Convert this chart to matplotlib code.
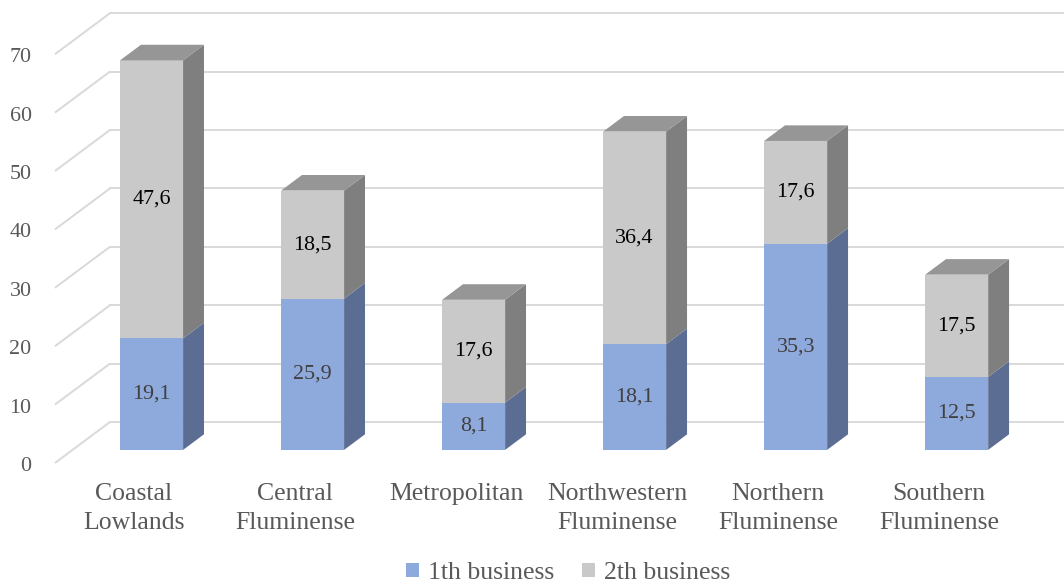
import matplotlib
matplotlib.use("Agg")
import matplotlib.pyplot as plt
from matplotlib.patches import Polygon, Patch

categories = ["Coastal\nLowlands", "Central\nFluminense", "Metropolitan",
              "Northwestern\nFluminense", "Northern\nFluminense", "Southern\nFluminense"]
first_business = [19.1, 25.9, 8.1, 18.1, 35.3, 12.5]
second_business = [47.6, 18.5, 17.6, 36.4, 17.6, 17.5]
series_names = ["1th business", "2th business"]
y_ticks = [0, 10, 20, 30, 40, 50, 60, 70]

FONT = "Liberation Serif"
BLUE_FRONT, BLUE_SIDE, BLUE_TOP = "#8EA9DB", "#5B6D92", "#7389B5"
GREY_FRONT, GREY_SIDE, GREY_TOP = "#C9C9C9", "#7F7F7F", "#969696"
GRID = "#D9D9D9"

fig = plt.figure(figsize=(10.64, 5.86), dpi=100)
ax = fig.add_axes([0, 0, 1, 1])
ax.set_xlim(-0.832, 5.776)
ax.set_ylim(-21.06, 79.28)
ax.axis("off")

# 3D projection: depth d in [0,1]
DX, DY = 0.3416, 7.02
def P(x, v, d):
    return (x + DX * d, v + DY * d)

wall_x = -0.4907
x_right = 6.5
# gridlines: left wall diagonals + back wall
for t in y_ticks:
    a = P(wall_x, t, 0); b = P(wall_x, t, 1)
    ax.plot([a[0], b[0]], [a[1], b[1]], color=GRID, lw=1.4, solid_capstyle="butt", zorder=1)
    ax.plot([b[0], x_right], [b[1], b[1]], color=GRID, lw=1.4, zorder=1)
    ax.text(wall_x - 0.145, t - 0.6, str(t), ha="right", va="center",
            fontsize=15.8, family=FONT, color="#595959")

# bars
f0, f1 = 0.32, 0.70
hw = 0.1957
def box(xc, v0, v1, front, side, top, draw_top):
    xl, xr = xc - hw, xc + hw
    fr = [P(xl, v0, f0), P(xr, v0, f0), P(xr, v1, f0), P(xl, v1, f0)]
    sd = [P(xr, v0, f0), P(xr, v0, f1), P(xr, v1, f1), P(xr, v1, f0)]
    ax.add_patch(Polygon(fr, closed=True, fc=front, ec="none", zorder=3))
    ax.add_patch(Polygon(sd, closed=True, fc=side, ec="none", zorder=3))
    if draw_top:
        tp = [P(xl, v1, f0), P(xr, v1, f0), P(xr, v1, f1), P(xl, v1, f1)]
        ax.add_patch(Polygon(tp, closed=True, fc=top, ec="none", zorder=3))

for i, (a, b) in enumerate(zip(first_business, second_business)):
    box(i, 0, a, BLUE_FRONT, BLUE_SIDE, BLUE_TOP, False)
    box(i, a, a + b, GREY_FRONT, GREY_SIDE, GREY_TOP, True)
    cx, _ = P(i, 0, f0)
    ax.text(cx, a / 2 + DY * f0, f"{a:.1f}".replace(".", ","), ha="center", va="center",
            fontsize=15.8, family=FONT, color="#404040", zorder=5)
    ax.text(cx, a + b / 2 + DY * f0, f"{b:.1f}".replace(".", ","), ha="center", va="center",
            fontsize=15.8, family=FONT, color="#000000", zorder=5)
    ax.text(i, -3.5, categories[i], ha="center", va="top", fontsize=18.5,
            family=FONT, color="#595959", linespacing=1.38)

handles = [Patch(facecolor=BLUE_FRONT, edgecolor="none"),
           Patch(facecolor=GREY_FRONT, edgecolor="none")]
leg = fig.legend(handles, series_names, loc="center", bbox_to_anchor=(0.534, 0.022),
                 ncol=2, frameon=False, prop={"family": FONT, "size": 18.5},
                 handlelength=0.5, handleheight=0.5, handletextpad=0.35,
                 columnspacing=1.1, borderpad=0.0)
for t in leg.get_texts():
    t.set_color("#595959")

fig.savefig("out.png", dpi=100)
